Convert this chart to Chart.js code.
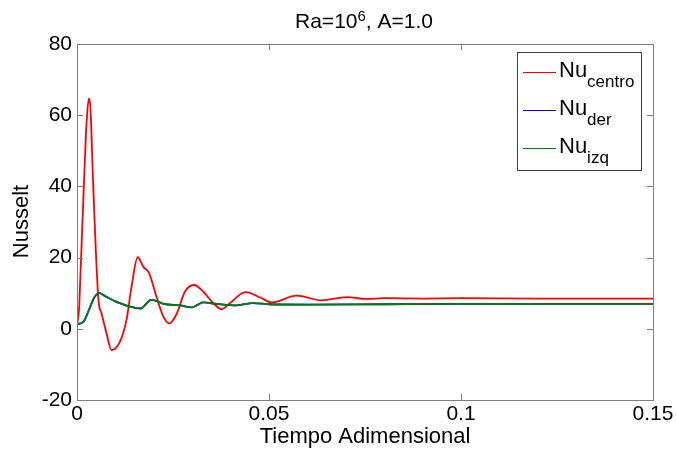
<!DOCTYPE html>
<html lang="es">
<head>
<meta charset="UTF-8">
<title>Ra=10^6, A=1.0</title>
<style>
  html, body { margin: 0; padding: 0; background: #ffffff; }
  #wrap { width: 676px; height: 453px; position: relative; }
</style>
</head>
<body>
<div id="wrap"><canvas id="nuChart" width="676" height="453"></canvas></div>
<script src="https://cdn.jsdelivr.net/npm/chart.js"></script>
<script>
// tiempo adimensional y Nusselt
const tCentro = [0, 0.0005, 0.001, 0.0015, 0.002, 0.0025, 0.0031, 0.0035, 0.0042, 0.0049, 0.0056, 0.0064, 0.0077, 0.009,
  0.0112, 0.0129, 0.0142, 0.0158, 0.0173, 0.0188, 0.0207, 0.0225, 0.024, 0.026, 0.0281, 0.0305, 0.0329, 0.0355, 0.0377,
  0.0398, 0.0439, 0.0477, 0.0507, 0.0572, 0.0637, 0.0702, 0.0754, 0.08, 0.09, 0.1, 0.12, 0.15];
const nuCentro = [1, 5, 18, 32, 46, 58, 64.7, 62, 41, 22, 8, 4.3, -1.3, -6,
  -3.6, 2.5, 11.8, 20.1, 17.4, 15.6, 9, 3.4, 1.5, 4.3, 10.4, 12.3, 10.4, 7.2, 5.5,
  7.2, 10.3, 8.8, 7.4, 9.3, 8.0, 8.9, 8.4, 8.6, 8.5, 8.6, 8.5, 8.5];

const tDer = [0, 0.0017, 0.003, 0.0045, 0.0058, 0.007, 0.0085, 0.01, 0.0112, 0.0138, 0.0155, 0.0167, 0.0178, 0.0193,
  0.021, 0.0225, 0.0268, 0.0299, 0.0315, 0.0329, 0.0364, 0.0416, 0.0458, 0.05, 0.06, 0.08, 0.1, 0.15];
const nuDer = [1.3, 2, 5, 8.8, 10, 9.4, 8.5, 7.7, 7.2, 6.2, 5.8, 5.7, 6.8, 8.1,
  7.7, 7.0, 6.6, 6.0, 6.8, 7.4, 7.0, 6.6, 7.2, 6.9, 6.8, 6.9, 7.0, 7.0];

const tIzq = [0, 0.0017, 0.003, 0.0045, 0.0058, 0.007, 0.0085, 0.01, 0.0112, 0.0138, 0.0155, 0.0167, 0.0178, 0.0193,
  0.021, 0.0225, 0.0268, 0.0299, 0.0315, 0.0329, 0.0364, 0.0416, 0.0458, 0.05, 0.06, 0.08, 0.1, 0.15];
const nuIzq = [1.3, 2, 5, 8.8, 10, 9.4, 8.5, 7.7, 7.2, 6.2, 5.8, 5.7, 6.8, 8.1,
  7.7, 7.0, 6.6, 6.0, 6.8, 7.4, 7.0, 6.6, 7.2, 6.9, 6.8, 6.9, 7.0, 7.0];

const xTicks = [0, 0.05, 0.1, 0.15];
const yTicks = [-20, 0, 20, 40, 60, 80];
const seriesNames = [['Nu', 'centro'], ['Nu', 'der'], ['Nu', 'izq']];
const seriesColors = ['#ff0000', '#0000ff', '#008000'];

const FONT = '"Liberation Sans", Arial, sans-serif';
const AXIS_GRAY = '#808080';

function pts(ts, vs) {
  return ts.map((t, i) => ({ x: t, y: vs[i] }));
}

// cosas al estilo matlab: caja, ticks hacia dentro, titulos, leyenda
const matlabDeco = {
  id: 'matlabDeco',
  afterDraw(chart) {
    const ctx = chart.ctx;
    const a = chart.chartArea;
    const xs = chart.scales.x, ys = chart.scales.y;
    ctx.save();
    ctx.strokeStyle = AXIS_GRAY;
    ctx.lineWidth = 1;
    ctx.strokeRect(Math.round(a.left) + 0.5, Math.round(a.top) + 0.5,
      Math.round(a.right - a.left), Math.round(a.bottom - a.top));
    ctx.beginPath();
    xTicks.forEach(v => {
      const px = Math.round(xs.getPixelForValue(v)) + 0.5;
      ctx.moveTo(px, a.bottom); ctx.lineTo(px, a.bottom - 6);
      ctx.moveTo(px, a.top); ctx.lineTo(px, a.top + 6);
    });
    yTicks.forEach(v => {
      const py = Math.round(ys.getPixelForValue(v)) + 0.5;
      ctx.moveTo(a.left, py); ctx.lineTo(a.left + 6, py);
      ctx.moveTo(a.right, py); ctx.lineTo(a.right - 6, py);
    });
    ctx.stroke();

    ctx.fillStyle = '#000';
    ctx.textBaseline = 'alphabetic';
    // titulo con superindice
    const cx = 364;
    const p1 = 'Ra=10', p3 = ', A=1.0';
    ctx.font = '21px ' + FONT;
    const w1 = ctx.measureText(p1).width, w3 = ctx.measureText(p3).width;
    ctx.font = '15px ' + FONT;
    const w2 = ctx.measureText('6').width;
    let x0 = cx - (w1 + w2 + w3) / 2;
    ctx.textAlign = 'left';
    ctx.font = '21px ' + FONT;
    ctx.fillText(p1, x0, 28);
    ctx.font = '15px ' + FONT;
    ctx.fillText('6', x0 + w1, 20.5);
    ctx.font = '21px ' + FONT;
    ctx.fillText(p3, x0 + w1 + w2, 28);

    // titulos de ejes
    ctx.font = '22px ' + FONT;
    ctx.textAlign = 'center';
    ctx.fillText('Tiempo Adimensional', 365, 443);
    ctx.save();
    ctx.translate(28, 221.5);
    ctx.rotate(-Math.PI / 2);
    ctx.fillText('Nusselt', 0, 0);
    ctx.restore();

    // leyenda
    const lx = 517.5, ly = 52.5, lw = 124, lh = 118;
    ctx.fillStyle = '#fff';
    ctx.fillRect(lx, ly, lw, lh);
    ctx.strokeStyle = '#404040';
    ctx.lineWidth = 1;
    ctx.strokeRect(lx, ly, lw, lh);
    ctx.textAlign = 'left';
    seriesNames.forEach((nm, i) => {
      const yy = 72.5 + i * 38;
      ctx.strokeStyle = seriesColors[i];
      ctx.lineWidth = 1.2;
      ctx.beginPath();
      ctx.moveTo(523, yy); ctx.lineTo(556, yy);
      ctx.stroke();
      ctx.fillStyle = '#000';
      ctx.font = '22px ' + FONT;
      ctx.fillText(nm[0], 559, yy + 4);
      const wn = ctx.measureText(nm[0]).width;
      ctx.font = '17px ' + FONT;
      ctx.fillText(nm[1], 559 + wn, yy + 14);
    });
    ctx.restore();
  }
};

const datasets = [
  { label: 'Nu centro', data: pts(tCentro, nuCentro), borderColor: seriesColors[0], order: 3 },
  { label: 'Nu der', data: pts(tDer, nuDer), borderColor: seriesColors[1], order: 2 },
  { label: 'Nu izq', data: pts(tIzq, nuIzq), borderColor: seriesColors[2], order: 1 }
].map(d => Object.assign(d, {
  showLine: true,
  borderWidth: 1.8,
  pointRadius: 0,
  fill: false,
  cubicInterpolationMode: 'monotone'
}));

new Chart(document.getElementById('nuChart'), {
  type: 'scatter',
  data: { datasets: datasets },
  options: {
    responsive: false,
    animation: false,
    layout: { padding: { left: 0, top: 44, right: 23, bottom: 0 } },
    plugins: { legend: { display: false }, tooltip: { enabled: false } },
    scales: {
      x: {
        type: 'linear', min: 0, max: 0.15,
        grid: { display: false, drawTicks: false },
        border: { display: false },
        afterFit(s) { s.height = 53; },
        afterBuildTicks(s) { s.ticks = xTicks.map(v => ({ value: v })); },
        ticks: {
          color: '#000', padding: 2,
          font: { family: FONT, size: 21 },
          callback: v => String(v)
        }
      },
      y: {
        type: 'linear', min: -20, max: 80,
        grid: { display: false, drawTicks: false },
        border: { display: false },
        afterFit(s) { s.width = 77; },
        afterBuildTicks(s) { s.ticks = yTicks.map(v => ({ value: v })); },
        ticks: {
          color: '#000', padding: 5,
          font: { family: FONT, size: 21 },
          callback: v => String(v)
        }
      }
    }
  },
  plugins: [matlabDeco]
});
</script>
</body>
</html>
